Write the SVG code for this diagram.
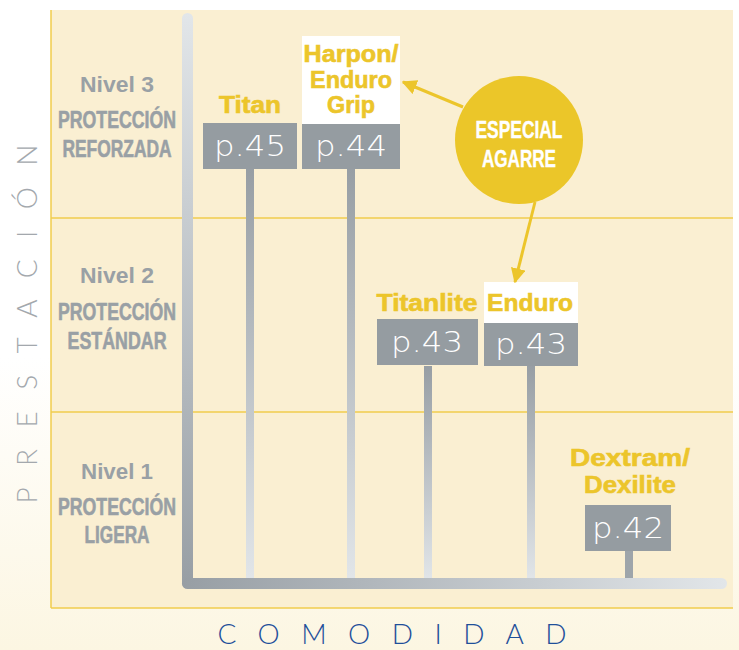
<svg xmlns="http://www.w3.org/2000/svg" width="739" height="650" viewBox="0 0 739 650">
  <defs>
    <linearGradient id="bg" x1="0" y1="0" x2="0" y2="1">
      <stop offset="0" stop-color="#ffffff"/>
      <stop offset="0.55" stop-color="#ffffff"/>
      <stop offset="1" stop-color="#fcf6e2"/>
    </linearGradient>
    <linearGradient id="vaxis" x1="0" y1="0" x2="0" y2="1">
      <stop offset="0" stop-color="#e2e6e9"/>
      <stop offset="1" stop-color="#979ea4"/>
    </linearGradient>
    <linearGradient id="haxis" x1="0" y1="0" x2="1" y2="0">
      <stop offset="0" stop-color="#979ea4"/>
      <stop offset="1" stop-color="#e2e6e9"/>
    </linearGradient>
    <linearGradient id="stem" x1="0" y1="0" x2="0" y2="1">
      <stop offset="0" stop-color="#979ea4"/>
      <stop offset="1" stop-color="#e2e6e9"/>
    </linearGradient>
    <marker id="arr" viewBox="0 0 10 10" refX="9" refY="5" markerWidth="5" markerHeight="5" orient="auto" markerUnits="strokeWidth">
      <path d="M0,0 L10,5 L0,10 Z" fill="#ecc52b"/>
    </marker>
  </defs>
  <style>
    .lvl { font-family: "Liberation Sans", Arial, sans-serif; font-weight: bold; fill: #99a0a5; text-anchor: middle; }
    .n { font-size: 22px; }
    .c { font-size: 24px; stroke: #99a0a5; stroke-width: 0.6; }
    .name { font-family: "Liberation Sans", Arial, sans-serif; font-weight: bold; font-size: 23px; fill: #ecc52b; stroke: #ecc52b; stroke-width: 0.6; text-anchor: middle; }
    .box { fill: #959ca1; }
    .pg { font-family: "DejaVu Sans", "Liberation Sans", sans-serif; font-weight: 200; font-size: 28px; fill: #ffffff; text-anchor: middle; }
    .ax { font-family: "Lato", "Liberation Sans", sans-serif; font-weight: 300; font-size: 28px; text-anchor: middle; }
    .div { stroke: #f0cd4c; stroke-width: 1.5; fill: none; }
    .st { fill: url(#stem); }
    .conn { stroke: #ecc52b; stroke-width: 3; fill: none; }
    .circ { font-family: "Liberation Sans", Arial, sans-serif; font-weight: bold; font-size: 24px; fill: #ffffff; stroke: #ffffff; stroke-width: 0.4; text-anchor: middle; }
  </style>

  <rect x="0" y="0" width="739" height="650" fill="url(#bg)"/>

  <g id="panel">
    <rect x="51" y="10" width="682" height="598" fill="#faefd2"/>
    <line class="div" x1="51" y1="10" x2="51" y2="608"/>
    <line class="div" x1="51" y1="608" x2="733" y2="608"/>
    <line class="div" x1="51" y1="218" x2="733" y2="218"/>
    <line class="div" x1="51" y1="412" x2="733" y2="412"/>
  </g>

  <g id="level3">
    <text class="lvl n" x="117" y="92" textLength="74" lengthAdjust="spacingAndGlyphs">Nivel 3</text>
    <text class="lvl c" x="117" y="128" textLength="118" lengthAdjust="spacingAndGlyphs">PROTECCIÓN</text>
    <text class="lvl c" x="117" y="157" textLength="109" lengthAdjust="spacingAndGlyphs">REFORZADA</text>
  </g>
  <g id="level2">
    <text class="lvl n" x="117" y="283" textLength="74" lengthAdjust="spacingAndGlyphs">Nivel 2</text>
    <text class="lvl c" x="117" y="320" textLength="118" lengthAdjust="spacingAndGlyphs">PROTECCIÓN</text>
    <text class="lvl c" x="117" y="349" textLength="99" lengthAdjust="spacingAndGlyphs">ESTÁNDAR</text>
  </g>
  <g id="level1">
    <text class="lvl n" x="117" y="479" textLength="72" lengthAdjust="spacingAndGlyphs">Nivel 1</text>
    <text class="lvl c" x="117" y="515" textLength="118" lengthAdjust="spacingAndGlyphs">PROTECCIÓN</text>
    <text class="lvl c" x="117" y="543" textLength="65" lengthAdjust="spacingAndGlyphs">LIGERA</text>
  </g>

  <g id="axis-y-label">
    <text class="ax" transform="translate(37,324) rotate(-90)" x="0" y="0" fill="#a3a8ad" textLength="359" lengthAdjust="spacing">PRESTACIÓN</text>
  </g>
  <g id="axis-x-label">
    <text class="ax" x="392" y="644" fill="#1f4f9a" textLength="349" lengthAdjust="spacing">COMODIDAD</text>
  </g>

  <g id="titan">
    <rect class="st" x="246" y="169" width="8" height="413"/>
    <text class="name" x="250" y="113" textLength="62" lengthAdjust="spacingAndGlyphs">Titan</text>
    <rect class="box" x="203" y="123" width="94" height="46"/>
    <text class="pg" x="250" y="156" textLength="72" lengthAdjust="spacingAndGlyphs">p.45</text>
  </g>

  <g id="harpon">
    <rect class="st" x="347" y="169" width="8" height="413"/>
    <rect x="302" y="36" width="98" height="88" fill="#ffffff"/>
    <text class="name" x="351" y="62" textLength="95" lengthAdjust="spacingAndGlyphs">Harpon/</text>
    <text class="name" x="351" y="88" textLength="82" lengthAdjust="spacingAndGlyphs">Enduro</text>
    <text class="name" x="351" y="113" textLength="48" lengthAdjust="spacingAndGlyphs">Grip</text>
    <rect class="box" x="302" y="124" width="98" height="45"/>
    <text class="pg" x="351" y="156" textLength="72" lengthAdjust="spacingAndGlyphs">p.44</text>
  </g>

  <g id="titanlite">
    <rect class="st" x="424" y="366" width="8" height="216"/>
    <text class="name" x="427" y="311" textLength="101" lengthAdjust="spacingAndGlyphs">Titanlite</text>
    <rect class="box" x="377" y="319" width="101" height="46"/>
    <text class="pg" x="427" y="352" textLength="72" lengthAdjust="spacingAndGlyphs">p.43</text>
  </g>

  <g id="enduro">
    <rect class="st" x="527" y="366" width="8" height="216"/>
    <rect x="484" y="282" width="94" height="41" fill="#ffffff"/>
    <text class="name" x="530" y="311" textLength="86" lengthAdjust="spacingAndGlyphs">Enduro</text>
    <rect class="box" x="484" y="323" width="94" height="43"/>
    <text class="pg" x="531" y="354" textLength="72" lengthAdjust="spacingAndGlyphs">p.43</text>
  </g>

  <g id="dextram">
    <rect x="625" y="551" width="8" height="29" fill="#9ea5aa"/>
    <text class="name" x="630" y="466" textLength="120" lengthAdjust="spacingAndGlyphs">Dextram/</text>
    <text class="name" x="630" y="493" textLength="92" lengthAdjust="spacingAndGlyphs">Dexilite</text>
    <rect class="box" x="585" y="505" width="86" height="46"/>
    <text class="pg" x="628" y="538" textLength="72" lengthAdjust="spacingAndGlyphs">p.42</text>
  </g>

  <g id="axes">
    <rect x="182" y="13" width="11" height="575" rx="5.5" fill="url(#vaxis)"/>
    <rect x="182" y="578" width="545" height="11" rx="5.5" fill="url(#haxis)"/>
  </g>

  <g id="especial-agarre">
    <circle cx="519" cy="140" r="64" fill="#ebc629"/>
    <text class="circ" x="519" y="138" textLength="87" lengthAdjust="spacingAndGlyphs">ESPECIAL</text>
    <text class="circ" x="519" y="167" textLength="74" lengthAdjust="spacingAndGlyphs">AGARRE</text>
  </g>

  <g id="connectors">
    <line class="conn" x1="463" y1="107" x2="403" y2="82" marker-end="url(#arr)"/>
    <line class="conn" x1="535" y1="202" x2="515" y2="282" marker-end="url(#arr)"/>
  </g>
</svg>
